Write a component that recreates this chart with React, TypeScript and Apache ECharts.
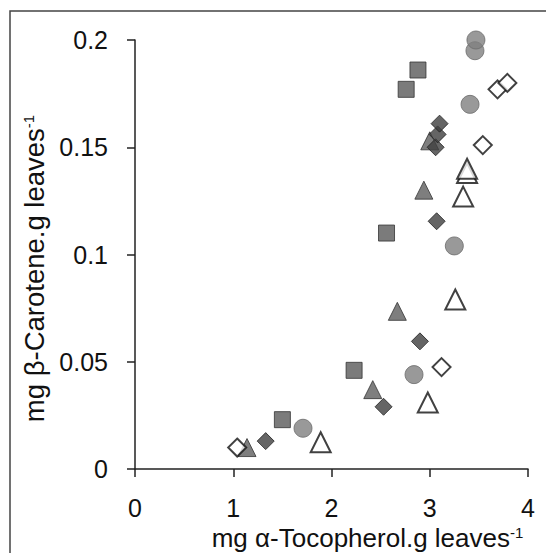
import React, { useEffect, useRef } from "react";
import * as echarts from "echarts";

const squares: [number, number][] = [
  [1.5, 0.023], [2.23, 0.046], [2.56, 0.11], [2.76, 0.177], [2.88, 0.186],
];
const circles: [number, number][] = [
  [1.71, 0.019], [2.84, 0.044], [3.25, 0.104], [3.41, 0.17], [3.46, 0.195], [3.47, 0.2],
];
const filledTriangles: [number, number][] = [
  [1.14, 0.01], [2.42, 0.037], [2.67, 0.0735], [2.94, 0.13], [3.0, 0.153],
];
const filledDiamonds: [number, number][] = [
  [1.33, 0.013], [2.53, 0.029], [2.9, 0.0595], [3.07, 0.1155], [3.06, 0.15], [3.08, 0.156], [3.1, 0.161],
];
const openDiamonds: [number, number][] = [
  [1.04, 0.01], [3.12, 0.0475], [3.54, 0.151], [3.69, 0.177], [3.79, 0.18],
];
const openTriangles: [number, number][] = [
  [1.89, 0.0125], [2.98, 0.031], [3.26, 0.079], [3.34, 0.127], [3.38, 0.138], [3.38, 0.14],
];

const xTicks = { min: 0, max: 4, interval: 1 };
const yTicks = { min: 0, max: 0.2, interval: 0.05 };

export default function App() {
  const ref = useRef<HTMLDivElement>(null);
  useEffect(() => {
    if (!ref.current) return;
    const chart = echarts.init(ref.current, null, { renderer: "svg" });
    const font = "Liberation Sans, Arial, sans-serif";
    const axisLine = { lineStyle: { color: "#222", width: 1.5 } };
    chart.setOption({
      animation: false,
      backgroundColor: "#fff",
      textStyle: { fontFamily: font },
      graphic: [
        {
          type: "rect",
          shape: { x: 10, y: 11, width: 545, height: 550 },
          style: { fill: "none", stroke: "#444", lineWidth: 1.5 },
          silent: true,
        },
      ],
      grid: { left: 135, right: 18, top: 40, bottom: 84, outerBoundsMode: "none", containLabel: false },
      xAxis: {
        type: "value",
        ...xTicks,
        splitLine: { show: false },
        axisLine: { ...axisLine, onZero: false },
        axisTick: { show: true, length: 8, lineStyle: { color: "#222", width: 1.5 } },
        axisLabel: { fontSize: 25, color: "#111", fontFamily: font, margin: 26 },
        name: "{t|mg α-Tocopherol.g leaves}{s|-1}",
        nameLocation: "middle",
        nameGap: 54,
        nameTextStyle: {
          padding: [0, 0, 0, 72],
          rich: {
            t: { fontSize: 26, color: "#111", fontFamily: font },
            s: { fontSize: 15, color: "#111", fontFamily: font, padding: [0, 0, 12, 0] },
          },
        },
      },
      yAxis: {
        type: "value",
        ...yTicks,
        splitLine: { show: false },
        axisLine: { ...axisLine, onZero: false },
        axisTick: { show: true, length: 8, lineStyle: { color: "#222", width: 1.5 } },
        axisLabel: { fontSize: 25, color: "#111", fontFamily: font, margin: 27 },
        name: "{t|mg β-Carotene.g leaves}{s|-1}",
        nameLocation: "middle",
        nameGap: 80,
        nameTextStyle: {
          padding: [0, 28, 0, 0],
          rich: {
            t: { fontSize: 27.5, color: "#111", fontFamily: font },
            s: { fontSize: 15, color: "#111", fontFamily: font, padding: [0, 0, 12, 0] },
          },
        },
      },
      series: [
        {
          type: "scatter", data: squares, symbol: "rect", symbolSize: 16,
          itemStyle: { color: "#5a5a5a", borderColor: "#333", borderWidth: 1 },
        },
        {
          type: "scatter", data: circles, symbol: "circle", symbolSize: 18,
          itemStyle: { color: "#808080", borderColor: "#6a6a6a", borderWidth: 1 },
        },
        {
          type: "scatter", data: filledTriangles, symbol: "triangle", symbolSize: 18,
          itemStyle: { color: "#5e5e5e", borderColor: "#333", borderWidth: 1 },
        },
        {
          type: "scatter", data: filledDiamonds, symbol: "diamond", symbolSize: 17,
          itemStyle: { color: "#3e3e3e", borderColor: "#222", borderWidth: 1 },
        },
        {
          type: "scatter", data: openDiamonds, symbol: "diamond", symbolSize: 18,
          itemStyle: { color: "#fff", borderColor: "#111", borderWidth: 2 },
        },
        {
          type: "scatter", data: openTriangles, symbol: "triangle", symbolSize: 20,
          itemStyle: { color: "#fff", borderColor: "#111", borderWidth: 2 },
        },
      ],
    });
    return () => chart.dispose();
  }, []);
  return <div ref={ref} style={{ width: 546, height: 553, position: "absolute", left: 0, top: 0 }} />;
}
